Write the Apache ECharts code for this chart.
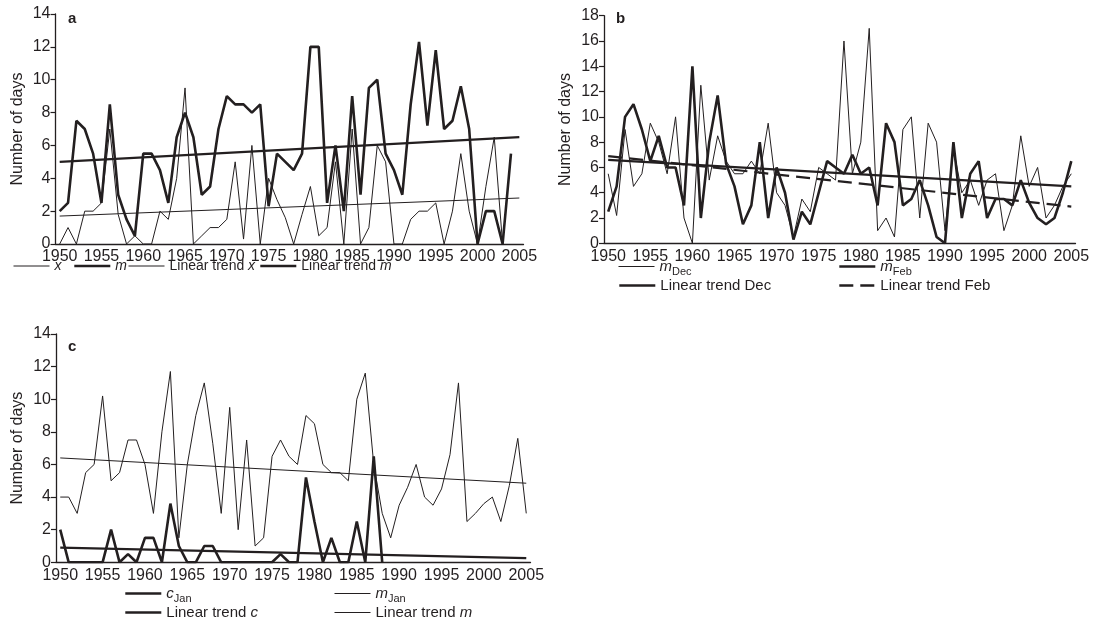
<!DOCTYPE html>
<html>
<head>
<meta charset="utf-8">
<script src="https://cdn.jsdelivr.net/npm/echarts@6/dist/echarts.min.js"></script>
<style>
  html, body { margin: 0; padding: 0; background: #fff; }
  #chart { width: 1098px; height: 639px; }
</style>
</head>
<body>
<div id="chart"></div>
<script>
// categories
const years = []
for (let y = 1950; y <= 2005; y++) years.push(String(y))

// panel a
const aX = [0, 1, 0, 2, 2, 2.5, 7, 1.8, 0, 0.5,
  0, 0, 2, 1.5, 4, 9.5, 0, 0.5, 1, 1,
  1.5, 5, 0.3, 6, 0, 4, 2.7, 1.6, 0, 1.8,
  3.5, 0.5, 1, 5, 0, 7, 0, 1, 6, 5,
  0, 0, 1.5, 2, 2, 2.5, 0, 2, 5.5, 2,
  0, 3.5, 6.5, 0]
const aM = [2, 2.5, 7.5, 7, 5.5, 2.5, 8.5, 3, 1.5, 0.5,
  5.5, 5.5, 4.5, 2.5, 6.5, 8, 6.5, 3, 3.5, 7,
  9, 8.5, 8.5, 8, 8.5, 2.3, 5.5, 5, 4.5, 5.5,
  12, 12, 2.5, 6, 2, 9, 3, 9.5, 10, 5.5,
  4.5, 3, 8.5, 12.3, 7.2, 11.8, 7, 7.5, 9.6, 7,
  0, 2, 2, 0, 5.5]
const aTrendX = [1.7, 2.8]
const aTrendM = [5.0, 6.5]

// panel b
const bDec = [5.5, 2.2, 9, 4.5, 5.5, 9.5, 8, 5.5, 10, 2,
  0, 12.5, 5, 8.5, 6.5, 5.5, 5.5, 6.5, 5.5, 9.5,
  4, 3, 0.5, 3.5, 2.5, 6, 5.5, 5, 16, 5.5,
  8, 17, 1, 2, 0.5, 9, 10, 2, 9.5, 8,
  1, 7.5, 4, 5, 3, 5, 5.5, 1, 3, 8.5,
  4.5, 6, 2, 3, 4.5, 5.5]
const bFeb = [2.5, 4.5, 10, 11, 9, 6.5, 8.5, 6, 6, 3,
  14, 2, 8, 11.7, 6.3, 4.5, 1.5, 3, 8, 2,
  6, 4, 0.3, 2.5, 1.5, 4, 6.5, 6, 5.5, 7,
  5.5, 6, 3, 9.5, 8, 3, 3.5, 5, 3, 0.5,
  0, 8, 2, 5.5, 6.5, 2, 3.5, 3.5, 3, 5,
  3.2, 2, 1.5, 2, 4, 6.5]
const bTrendDec = [6.6, 4.5]
const bTrendFeb = [6.9, 2.9]

// panel c
const cJan = [2, 0, 0, 0, 0, 0, 2, 0, 0.5, 0,
  1.5, 1.5, 0, 3.6, 1, 0, 0, 1, 1, 0,
  0, 0, 0, 0, 0, 0, 0.5, 0, 0, 5.2,
  2.5, 0, 1.5, 0, 0, 2.5, 0, 6.5, 0]
const mJan = [4, 4, 3, 5.5, 6, 10.2, 5, 5.5, 7.5, 7.5,
  6, 3, 8, 11.7, 1.5, 6, 9, 11, 7.3, 3,
  9.5, 2, 7.5, 1, 1.5, 6.5, 7.5, 6.5, 6, 9,
  8.5, 6, 5.5, 5.5, 5, 10, 11.6, 6, 3, 1.5,
  3.5, 4.6, 6, 4, 3.5, 4.5, 6.6, 11, 2.5, 3,
  3.6, 4, 2.5, 4.7, 7.6, 3]
const cTrendC = [0.9, 0.25]
const cTrendM = [6.4, 4.85]

const ink = '#231f20'
const font = 'Liberation Sans, Arial, sans-serif'
const thick = 2.6
const thin = 1

const labels = {
  a_x: '{i|x}',
  a_m: '{i|m}',
  a_tx: 'Linear trend {i|x}',
  a_tm: 'Linear trend {i|m}',
  b_dec: '{i|m}{s|Dec}',
  b_feb: '{i|m}{s|Feb}',
  b_tdec: 'Linear trend Dec',
  b_tfeb: 'Linear trend Feb',
  c_c: '{i|c}{s|Jan}',
  c_m: '{i|m}{s|Jan}',
  c_tc: 'Linear trend {i|c}',
  c_tm: 'Linear trend {i|m}'
}

function trend (v) {
  return [[years[0], v[0]], [years[years.length - 1], v[1]]]
}

function line (name, idx, data, width, dashed) {
  return {
    name: name,
    type: 'line',
    xAxisIndex: idx,
    yAxisIndex: idx,
    data: data,
    symbol: 'none',
    silent: true,
    lineStyle: { color: ink, width: width, type: dashed ? [14, 7] : 'solid' },
    itemStyle: { color: ink }
  }
}

function legend (name, left, top, width, size, dashed) {
  size = size || 15
  return {
    data: [name],
    left: left,
    top: top,
    padding: 0,
    itemWidth: 36,
    itemHeight: 14,
    selectedMode: false,
    itemStyle: { opacity: 0 },
    lineStyle: { width: width, color: ink, type: dashed ? [14, 7] : 'solid' },
    formatter: (n) => labels[n],
    textStyle: {
      fontFamily: font,
      fontSize: size,
      color: ink,
      rich: {
        i: { fontStyle: 'italic', fontSize: size, fontFamily: font, color: ink },
        s: { fontSize: 11, fontFamily: font, color: ink, padding: [10, 0, 0, 0] }
      }
    }
  }
}

function xAxis (idx) {
  return {
    type: 'category',
    gridIndex: idx,
    data: years,
    boundaryGap: true,
    axisLine: { lineStyle: { color: ink, width: 1.3 } },
    axisTick: { interval: 0, length: 5, lineStyle: { color: ink, width: 1.2 } },
    axisLabel: { interval: 4, fontSize: 16, fontFamily: font, color: ink, margin: 5 },
    splitLine: { show: false }
  }
}

function yAxis (idx, max) {
  return {
    type: 'value',
    gridIndex: idx,
    min: 0,
    max: max,
    interval: 2,
    name: 'Number of days',
    nameLocation: 'middle',
    nameGap: 30,
    nameTextStyle: { fontSize: 16, fontFamily: font, color: ink },
    axisLine: { show: true, lineStyle: { color: ink, width: 1.3 } },
    axisTick: { show: true, length: 5, lineStyle: { color: ink, width: 1.2 } },
    axisLabel: { fontSize: 16, fontFamily: font, color: ink, margin: 5 },
    splitLine: { show: false }
  }
}

const myChart = echarts.init(document.getElementById('chart'))
myChart.setOption({
  animation: false,
  backgroundColor: '#fff',
  title: [
    { text: 'a', left: 63, top: 6, textStyle: { fontSize: 15, fontWeight: 'bold', fontFamily: font, color: ink } },
    { text: 'b', left: 611, top: 6, textStyle: { fontSize: 15, fontWeight: 'bold', fontFamily: font, color: ink } },
    { text: 'c', left: 63, top: 334, textStyle: { fontSize: 15, fontWeight: 'bold', fontFamily: font, color: ink } }
  ],
  grid: [
    { left: 55.5, top: 14, width: 468, height: 230 },
    { left: 604, top: 15.7, width: 471.5, height: 227.6 },
    { left: 56, top: 334, width: 474.5, height: 228.3 }
  ],
  xAxis: [xAxis(0), xAxis(1), xAxis(2)],
  yAxis: [yAxis(0, 14), yAxis(1, 18), yAxis(2, 14)],
  legend: [
    legend('a_x', 13, 259, thin, 14),
    legend('a_m', 73, 259, thick, 14),
    legend('a_tx', 128, 259, thin, 14),
    legend('a_tm', 259, 259, thick, 14),
    legend('b_dec', 618, 259, thin),
    legend('b_feb', 838, 259, thick),
    legend('b_tdec', 618, 278, thick),
    legend('b_tfeb', 838, 278, thick, 15, true),
    legend('c_c', 124, 586, thick),
    legend('c_m', 334, 586, thin),
    legend('c_tc', 124, 605, thick),
    legend('c_tm', 334, 605, thin)
  ],
  series: [
    line('a_x', 0, aX, thin),
    line('a_m', 0, aM, thick),
    line('a_tx', 0, trend(aTrendX), thin),
    line('a_tm', 0, trend(aTrendM), 2.2),
    line('b_dec', 1, bDec, thin),
    line('b_feb', 1, bFeb, thick),
    line('b_tdec', 1, trend(bTrendDec), 2.2),
    line('b_tfeb', 1, trend(bTrendFeb), 2.2, true),
    line('c_c', 2, cJan, thick),
    line('c_m', 2, mJan, thin),
    line('c_tc', 2, trend(cTrendC), 2.2),
    line('c_tm', 2, trend(cTrendM), thin)
  ]
})
window.addEventListener('resize', () => myChart.resize())
</script>
</body>
</html>
